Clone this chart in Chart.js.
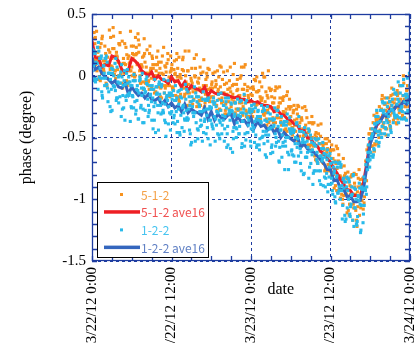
<!DOCTYPE html>
<html><head><meta charset="utf-8">
<script src="https://cdn.jsdelivr.net/npm/chart.js@4"></script>
<style>html,body{margin:0;padding:0;background:#fff}canvas{display:block}</style>
</head><body>
<canvas id="c" width="415" height="343"></canvas>
<script>
// ---- data (phase values stored in hundredths of a degree) ----
const seriesNames = ['5-1-2', '5-1-2 ave16', '1-2-2', '1-2-2 ave16'];
const xTickValues = [0, 12, 24, 36, 48];            // hours since 3/22/12 0:00
const xTickLabels = ['3/22/12 0:00', '3/22/12 12:00', '3/23/12 0:00', '3/23/12 12:00', '3/24/12 0:00'];
const yTickValues = [-1.5, -1, -0.5, 0, 0.5];
const yTickLabels = ['-1.5', '-1', '-0.5', '0', '0.5'];

const sampleStepHours = 0.25;   // raw samples (four interleaved sample sets per series)
const aveStepHours = 0.5;       // ave16 curve

const phase512_a = [
 30,13,31,4,15,-4,30,5,12,-8,21,5,14,32,4,16,0,35,4,14,-5,17,-5,11,
 7,24,0,18,29,0,8,-11,11,2,-5,24,-10,6,0,15,-9,6,-18,1,8,-8,13,-17,
 6,-10,1,13,-17,-1,-9,15,-15,-7,4,-24,-4,-13,0,17,-22,-10,-18,3,-25,-8,6,-21,
 -17,2,-22,-7,-13,-27,7,-21,-7,-31,-11,-4,-25,-15,10,-27,-11,-22,0,-32,-16,-28,-9,-21,
 -15,-33,-3,-24,-13,-37,-19,2,-32,-13,-28,-10,-36,-22,-29,-9,-43,-22,-37,-18,-31,-43,-13,-39,
 -33,-48,-24,-45,-31,-41,-57,-26,-48,-40,-57,-38,-56,-50,-38,-68,-52,-66,-49,-64,-55,-75,-51,-72,
 -61,-78,-60,-89,-75,-64,-99,-84,-97,-79,-111,-86,-96,-80,-107,-96,-122,-90,-84,-101,-85,-92,-60,-66,
 -47,-57,-43,-56,-30,-38,-44,-19,-38,-23,-43,-26,-32,-10,-36,-19,-39,-14,-22,-29,0,-25,-12,-30,
 -15];
const phase512_b = [
 13,30,13,19,-3,26,2,9,-6,15,37,8,22,1,16,5,26,9,-10,10,23,-6,10,4,
 18,2,17,10,25,-6,15,30,-5,2,-11,6,14,-3,-13,9,2,-10,16,-8,7,-16,-1,16,
 -9,5,-16,-1,15,-15,5,-10,0,-24,20,-10,-6,-19,6,-17,-2,-24,-11,13,-15,-1,-20,-10,
 -5,-21,-9,-28,-1,-9,-18,3,-28,-15,-21,7,-19,-7,-30,-12,-27,-2,-22,-11,9,-30,-18,-27,
 -28,-11,-22,-1,-35,-17,-9,-31,-21,-40,4,-25,-17,-38,-12,-34,-25,-18,-40,-29,-47,-16,-38,-27,
 -44,-30,-40,-27,-53,-38,-34,-49,-25,-57,-46,-57,-38,-55,-65,-50,-40,-60,-69,-57,-77,-55,-72,-65,
 -81,-67,-78,-57,-93,-84,-74,-104,-81,-96,-78,-104,-90,-117,-87,-80,-106,-113,-95,-83,-98,-72,-73,-47,
 -62,-48,-61,-35,-45,-25,-47,-32,-23,-48,-25,-37,-16,-30,-22,-38,-16,-30,-8,-32,-19,-35,-8,-18,
 -24];
const phase512_c = [
 24,35,9,23,-1,15,32,3,18,-2,11,31,7,22,-2,15,26,1,28,2,9,-8,16,36,
 0,17,31,9,19,-6,7,16,-6,21,-4,4,16,-11,9,0,11,-17,2,23,-10,10,-6,3,
 9,-12,2,18,-19,1,-10,4,20,-14,-7,-21,6,-10,-1,-25,-6,7,-20,-8,-22,2,-11,-18,
 -7,-17,3,-24,-11,8,-22,-14,-31,-6,-17,-10,-30,1,-22,-7,-28,-16,7,-25,-7,-33,-16,-21,
 -30,-9,-23,-13,-36,-5,-20,-28,-1,-35,-18,-26,-11,-34,-18,-43,-26,-9,-34,-20,-44,-27,-35,-19,
 -25,-42,-36,-52,-24,-49,-35,-43,-56,-28,-51,-44,-60,-39,-55,-46,-71,-55,-39,-70,-60,-77,-59,-53,
 -73,-60,-91,-71,-59,-91,-82,-100,-73,-95,-83,-113,-82,-97,-79,-109,-94,-76,-107,-88,-103,-69,-74,-47,
 -43,-57,-32,-46,-35,-50,-34,-16,-42,-28,-35,-18,-42,-21,-26,-34,-12,-27,-19,-34,-6,-25,-11,-25,
 -10];
const phase512_d = [
 10,26,36,11,23,2,12,24,-8,10,19,7,39,4,19,11,25,-6,10,26,-4,14,4,24,
 14,-1,23,34,4,9,-5,18,7,-8,18,-2,9,-14,4,20,-7,11,-3,-14,3,18,-8,4,
 -11,12,-4,6,-21,-2,13,-17,-5,4,-14,-2,-23,14,-12,-5,-20,2,-13,-26,-3,-18,5,-11,
 -10,-23,-4,4,-19,-28,-3,-14,-23,4,-27,-13,-8,-21,-32,-3,-16,-27,-11,7,-22,-12,-33,-10,
 -16,-29,-4,-23,-12,-35,-18,-1,-30,-16,-38,-12,-26,-22,-38,-10,-34,-22,-39,-17,-30,-45,-25,-39,
 -42,-28,-50,-35,-25,-45,-36,-54,-43,-34,-56,-49,-33,-57,-48,-69,-47,-61,-55,-71,-51,-62,-77,-60,
 -56,-80,-69,-93,-69,-81,-96,-67,-92,-83,-109,-89,-81,-104,-90,-117,-83,-101,-88,-108,-84,-85,-57,-62,
 -57,-38,-55,-37,-55,-35,-27,-40,-18,-34,-22,-40,-24,-15,-34,-25,-35,-8,-27,-16,-34,-16,-21,1,
 -14];
const phase512_ave16 = [
 28,15,14,7,9,8,16,15,12,5,3,5,14,12,9,4,2,0,3,-3,0,-3,-4,-6,
 -1,-5,-4,-9,-5,-12,-8,-10,-11,-13,-9,-16,-12,-14,-15,-14,-15,-16,-17,-18,-17,-19,-19,-21,
 -20,-22,-21,-23,-24,-24,-25,-29,-28,-31,-32,-35,-36,-39,-40,-45,-44,-50,-51,-55,-57,-61,-63,-67,
 -70,-75,-79,-84,-88,-92,-93,-97,-97,-98,-86,-70,-52,-47,-40,-37,-32,-31,-27,-28,-24,-25,-21,-21,
 -17];

const phase122_a = [
 4,20,-5,10,20,-2,-16,8,-2,11,-13,-3,-28,0,-12,7,-22,-6,-1,-26,-7,-16,-1,-37,
 -8,-26,-4,-20,-35,-3,-16,-10,-28,-1,-24,-16,-36,-11,-22,-9,-44,-19,-7,-30,-23,-17,-39,-16,
 -29,-12,-39,-18,-27,-48,-18,-24,-36,-11,-35,-24,-54,-20,-30,-17,-44,-29,-40,-13,-35,-27,-51,-25,
 -26,-43,-22,-40,-30,-51,-20,-36,-43,-26,-56,-30,-23,-45,-31,-50,-27,-41,-20,-37,-57,-31,-46,-27,
 -43,-27,-54,-35,-29,-60,-38,-49,-28,-45,-53,-35,-42,-62,-35,-50,-28,-70,-44,-57,-37,-50,-62,-43,
 -47,-64,-44,-70,-51,-41,-62,-51,-79,-48,-62,-45,-71,-60,-77,-57,-70,-55,-88,-67,-63,-83,-60,-82,
 -71,-93,-79,-103,-74,-93,-74,-116,-91,-86,-107,-84,-106,-96,-122,-92,-118,-101,-127,-92,-82,-93,-68,-69,
 -62,-43,-59,-39,-45,-57,-28,-41,-28,-42,-18,-33,-41,-24,-11,-34,-23,-38,-14,-25,-3,-30,-15,-30,
 -17];
const phase122_b = [
 18,-2,10,-11,14,16,-2,-8,16,-21,2,-11,5,-9,-20,-5,0,-33,-16,4,-20,-6,-14,-25,
 -17,-4,-28,-12,-4,-24,-38,-11,-3,-19,-28,-11,-18,-36,-9,-24,-5,-31,-22,-14,-49,-20,-14,-31,
 -16,-32,-20,-37,-12,-32,-26,-45,-19,-36,-17,-56,-25,-30,-14,-43,-23,-36,-53,-28,-19,-42,-27,-36,
 -41,-23,-35,-20,-48,-28,-40,-24,-18,-47,-31,-59,-29,-42,-22,-38,-47,-33,-55,-27,-22,-46,-36,-53,
 -29,-42,-26,-56,-36,-33,-50,-26,-64,-37,-48,-31,-56,-41,-47,-28,-53,-44,-66,-40,-53,-37,-76,-45,
 -60,-46,-55,-38,-65,-59,-45,-80,-54,-66,-43,-61,-54,-79,-51,-68,-77,-65,-59,-89,-66,-79,-88,-63,
 -83,-70,-98,-82,-95,-70,-93,-84,-113,-90,-83,-112,-97,-81,-107,-120,-97,-91,-105,-119,-91,-96,-62,-74,
 -51,-66,-39,-53,-33,-45,-47,-22,-47,-31,-38,-21,-46,-28,-32,-15,-19,-34,-26,-8,-34,-18,-28,2,
 -22];
const phase122_c = [
 21,-4,11,23,-1,14,-18,2,14,-10,2,-29,2,-9,14,-18,-6,3,-27,-4,-17,5,-16,-8,
 -16,1,-31,-8,-14,-26,2,-38,-13,-7,-30,-15,-8,-25,-46,-14,-7,-24,-30,-3,-38,-16,-25,-44,
 -19,-34,-8,-46,-23,-17,-42,-30,-7,-34,-27,-47,-17,-33,-53,-21,-17,-41,-29,-46,-20,-32,-18,-56,
 -39,-18,-53,-29,-15,-38,-47,-24,-33,-58,-18,-36,-28,-51,-22,-43,-32,-21,-58,-30,-47,-20,-40,-30,
 -24,-45,-37,-58,-28,-51,-24,-45,-36,-66,-30,-43,-58,-36,-26,-54,-41,-58,-33,-54,-76,-40,-50,-34,
 -61,-45,-70,-39,-55,-45,-77,-52,-42,-66,-58,-74,-51,-88,-56,-52,-71,-85,-65,-54,-82,-64,-94,-74,
 -67,-96,-77,-70,-95,-90,-72,-105,-86,-116,-93,-86,-104,-117,-91,-100,-114,-87,-125,-92,-105,-72,-76,-51,
 -65,-47,-60,-33,-38,-54,-28,-21,-38,-43,-25,-29,-44,-19,-30,-14,-33,-21,-8,-29,-35,-15,-2,-22,
 -15];
const phase122_d = [
 8,18,-3,27,6,-13,8,14,-7,2,-25,6,-8,10,-18,-1,-17,9,-8,-36,2,-15,-5,-26,
 -4,-21,-11,-35,-1,-10,-27,-14,-6,-33,-8,-21,-43,-3,-15,-30,-15,-9,-28,-36,-18,-4,-30,-14,
 -38,-20,-29,-13,-46,-11,-25,-35,-28,-13,-44,-21,-30,-9,-38,-51,-25,-29,-19,-37,-47,-20,-36,-26,
 -21,-33,-25,-47,-36,-14,-32,-53,-21,-41,-28,-22,-62,-33,-42,-19,-47,-30,-37,-15,-52,-34,-29,-57,
 -40,-23,-48,-33,-56,-37,-29,-55,-48,-25,-43,-63,-35,-40,-57,-32,-69,-38,-48,-38,-57,-31,-64,-46,
 -43,-65,-50,-58,-33,-71,-54,-46,-66,-53,-83,-48,-64,-55,-77,-62,-51,-77,-69,-59,-90,-68,-65,-88,
 -87,-74,-102,-81,-71,-100,-89,-83,-118,-82,-100,-114,-90,-80,-107,-121,-98,-104,-90,-112,-85,-90,-56,-68,
 -49,-64,-44,-28,-48,-37,-50,-30,-22,-36,-48,-21,-27,-38,-14,-32,-5,-28,-35,-16,-21,-36,-17,-8,
 -25];
const phase122_ave16 = [
 15,5,7,2,-1,-3,-6,-4,-9,-10,-6,-15,-9,-13,-16,-14,-18,-15,-19,-20,-18,-23,-20,-25,
 -22,-26,-24,-29,-23,-30,-27,-29,-30,-32,-26,-35,-29,-36,-31,-34,-35,-32,-31,-39,-33,-37,-36,-40,
 -34,-42,-37,-41,-40,-44,-41,-46,-43,-50,-46,-49,-51,-53,-49,-58,-55,-59,-61,-62,-65,-68,-71,-76,
 -76,-85,-84,-92,-92,-98,-97,-102,-102,-101,-91,-73,-55,-48,-39,-37,-32,-33,-28,-28,-24,-25,-21,-23,
 -18];

// ---- styling ----
const COL_ORANGE = 'rgb(247,146,30)';
const COL_RED = 'rgb(238,30,36)';
const COL_CYAN = 'rgb(40,186,234)';
const COL_BLUE = 'rgb(52,102,190)';
const FRAME = 'rgb(30,60,160)';

function pts(arr, step, offset) {
  return arr.map((v, i) => ({ x: offset + i * step, y: v / 100 }));
}

const framePlugin = {
  id: 'frame',
  afterDatasetsDraw(chart) {
    const { ctx, chartArea: a, scales: { x, y } } = chart;
    ctx.save();
    ctx.strokeStyle = FRAME;
    ctx.lineWidth = 1.3;
    ctx.setLineDash([]);
    ctx.strokeRect(a.left + 0.5, a.top + 0.5, a.right - a.left - 1, a.bottom - a.top - 1);
    const tl = 5;
    ctx.beginPath();
    for (let h = 0; h <= 48; h += 3) {
      const px = Math.round(x.getPixelForValue(h)) + 0.5;
      ctx.moveTo(px, a.bottom); ctx.lineTo(px, a.bottom - tl);
      ctx.moveTo(px, a.top); ctx.lineTo(px, a.top + tl);
    }
    for (let k = -15; k <= 5; k++) {
      const py = Math.round(y.getPixelForValue(k / 10)) + 0.5;
      ctx.moveTo(a.left, py); ctx.lineTo(a.left + tl, py);
      ctx.moveTo(a.right, py); ctx.lineTo(a.right - tl, py);
    }
    ctx.stroke();

    // legend box
    const bx = a.left + 5, by = a.bottom - 79, bw = 111, bh = 75;
    ctx.fillStyle = '#fff';
    ctx.fillRect(bx, by, bw, bh);
    ctx.strokeStyle = '#000';
    ctx.lineWidth = 1;
    ctx.strokeRect(bx + 0.5, by + 0.5, bw, bh);
    const rows = [
      { name: seriesNames[0], kind: 'dot', col: COL_ORANGE, txt: 'rgb(244,160,70)' },
      { name: seriesNames[1], kind: 'line', col: COL_RED, txt: 'rgb(240,80,80)' },
      { name: seriesNames[2], kind: 'dot', col: COL_CYAN, txt: 'rgb(70,196,240)' },
      { name: seriesNames[3], kind: 'line', col: COL_BLUE, txt: 'rgb(96,128,196)' },
    ];
    ctx.font = '12px "Noto Sans CJK JP", "DejaVu Sans", sans-serif';
    ctx.textBaseline = 'middle';
    ctx.textAlign = 'left';
    rows.forEach((r, i) => {
      const cy = by + 12 + i * 17.7;
      if (r.kind === 'dot') {
        ctx.fillStyle = r.col;
        ctx.fillRect(bx + 23, cy - 1, 3, 3);
      } else {
        ctx.fillStyle = r.col;
        ctx.fillRect(bx + 7, cy - 1.5, 36, 3.5);
      }
      ctx.fillStyle = r.txt;
      ctx.fillText(r.name, bx + 44, cy + 1);
    });

    // x axis title
    ctx.fillStyle = '#000';
    ctx.font = '16px "Liberation Serif", serif';
    ctx.textAlign = 'center';
    ctx.textBaseline = 'alphabetic';
    ctx.fillText('date', x.getPixelForValue(28.5), a.bottom + 33);
    ctx.restore();
  }
};

const gridStyle = { color: FRAME, lineWidth: 1, drawTicks: false };
const dotStyle = { borderWidth: 0, pointStyle: 'rect', pointRadius: 2.2 };

new Chart(document.getElementById('c'), {
  type: 'scatter',
  data: {
    datasets: [
      Object.assign({ label: seriesNames[0], backgroundColor: COL_ORANGE, order: 4,
        data: [].concat(pts(phase512_a, sampleStepHours, 0), pts(phase512_b, sampleStepHours, 0.125),
                        pts(phase512_c, sampleStepHours, 0.0625), pts(phase512_d, sampleStepHours, 0.1875)) }, dotStyle),
      { label: seriesNames[1], data: pts(phase512_ave16, aveStepHours, 0), showLine: true,
        borderColor: COL_RED, borderWidth: 3, pointRadius: 0, tension: 0, order: 3 },
      Object.assign({ label: seriesNames[2], backgroundColor: COL_CYAN, order: 1,
        data: [].concat(pts(phase122_a, sampleStepHours, 0.03), pts(phase122_b, sampleStepHours, 0.16),
                        pts(phase122_c, sampleStepHours, 0.09), pts(phase122_d, sampleStepHours, 0.22)) }, dotStyle),
      { label: seriesNames[3], data: pts(phase122_ave16, aveStepHours, 0), showLine: true,
        borderColor: COL_BLUE, borderWidth: 3, pointRadius: 0, tension: 0, order: 2 },
    ]
  },
  options: {
    responsive: false,
    animation: false,
    devicePixelRatio: 1,
    layout: { padding: { top: 14, right: 5, left: 0, bottom: 0 } },
    plugins: { legend: { display: false }, tooltip: { enabled: false } },
    scales: {
      x: {
        type: 'linear', min: 0, max: 48,
        afterBuildTicks(s) { s.ticks = xTickValues.map(v => ({ value: v })); },
        afterFit(s) { s.height = 82; s.paddingLeft = 0; s.paddingRight = 0; },
        grid: gridStyle,
        border: { display: false, dash: [3, 3] },
        ticks: {
          autoSkip: false, minRotation: 90, maxRotation: 90, padding: 6,
          color: '#000', font: { family: '"Liberation Serif", serif', size: 15 },
          callback: (v) => xTickLabels[xTickValues.indexOf(v)]
        }
      },
      y: {
        type: 'linear', min: -1.5, max: 0.5,
        afterBuildTicks(s) { s.ticks = yTickValues.map(v => ({ value: v })); },
        afterFit(s) { s.width = 92; s.paddingTop = 0; s.paddingBottom = 0; },
        grid: gridStyle,
        border: { display: false, dash: [3, 3] },
        ticks: {
          padding: 6, color: '#000', font: { family: '"Liberation Serif", serif', size: 15 },
          callback: (v) => yTickLabels[yTickValues.indexOf(v)]
        },
        title: {
          display: true, text: 'phase (degree)', color: '#000',
          font: { family: '"Liberation Serif", serif', size: 16 },
          padding: { top: 17, bottom: 0 }
        }
      }
    }
  },
  plugins: [framePlugin]
});
</script>
</body></html>
